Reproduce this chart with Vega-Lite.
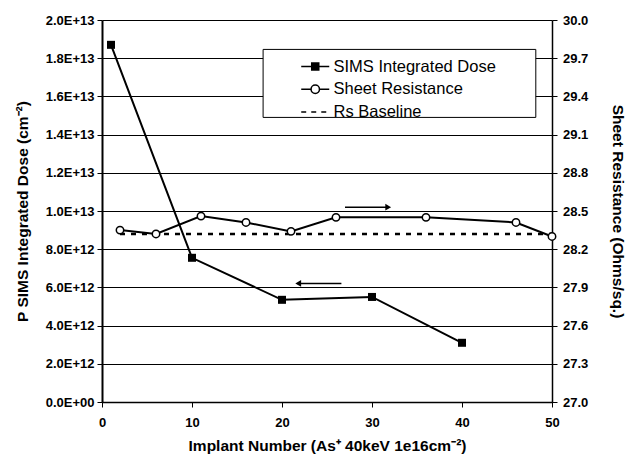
{
  "$schema": "https://vega.github.io/schema/vega-lite/v6.json",
  "width": 450,
  "height": 382,
  "autosize": {"type": "none"},
  "padding": {"left": 102, "top": 20, "right": 76, "bottom": 56},
  "background": "white",
  "config": {
    "view": {"stroke": null},
    "font": "Liberation Sans",
    "axis": {
      "domainColor": "black", "domainWidth": 1.5,
      "tickColor": "black", "tickWidth": 1, "tickSize": 5,
      "labelColor": "black", "labelFont": "Liberation Sans", "labelFontSize": 13, "labelFontWeight": "bold",
      "titleColor": "black", "titleFont": "Liberation Sans", "titleFontSize": 15.5, "titleFontWeight": "bold",
      "gridColor": "black", "gridWidth": 1, "gridOpacity": 1,
      "labelFlush": false, "labelOverlap": false
    },
    "legend": {
      "orient": "none", "legendX": 198, "legendY": 38.3, "padding": 0, "rowPadding": 5.7,
      "labelFont": "Liberation Sans", "labelFontSize": 16.5, "labelFontWeight": "normal", "labelColor": "black", "labelLimit": 0,
      "symbolSize": 144, "symbolStrokeWidth": 1.5, "symbolStrokeColor": "black", "labelOffset": 17, "title": null
    }
  },
  "datasets": {
    "sims": [
      {"x": 1, "dose": 1.87e13},
      {"x": 10, "dose": 7.55e12},
      {"x": 20, "dose": 5.35e12},
      {"x": 30, "dose": 5.5e12},
      {"x": 40, "dose": 3.1e12}
    ],
    "sr": [
      {"x": 2, "rs": 28.35},
      {"x": 6, "rs": 28.32},
      {"x": 11, "rs": 28.46},
      {"x": 16, "rs": 28.41},
      {"x": 21, "rs": 28.34},
      {"x": 26, "rs": 28.45},
      {"x": 36, "rs": 28.45},
      {"x": 46, "rs": 28.41},
      {"x": 50, "rs": 28.3}
    ],
    "base": [
      {"x": 2, "rs": 28.32},
      {"x": 50, "rs": 28.32}
    ],
    "box": [
      {"x": 17.9, "x2": 48.2, "dose": 1.49e13, "d2": 1.846e13}
    ],
    "arrowL": [
      {"x": 21.8, "x2": 26.6, "dose": 6.21e12}
    ],
    "arrowR": [
      {"x": 27, "x2": 31.8, "rs": 28.53}
    ]
  },
  "layer": [
    {
      "layer": [
        {
          "data": {"name": "sims"},
          "mark": {"type": "line", "strokeWidth": 2},
          "encoding": {
            "x": {"field": "x", "type": "quantitative", "scale": {"domain": [0, 50], "nice": false},
              "axis": {"values": [0, 10, 20, 30, 40, 50], "tickCount": 8, "grid": false, "labelOverlap": false, "title": "Implant Number (As⁺ 40keV 1e16cm⁻²)", "labelPadding": 9, "titlePadding": 9}},
            "y": {"field": "dose", "type": "quantitative", "scale": {"domain": [0, 2e13], "nice": false},
              "axis": {"orient": "left", "values": [0, 2e12, 4e12, 6e12, 8e12, 1e13, 1.2e13, 1.4e13, 1.6e13, 1.8e13, 2e13], "tickCount": 12, "grid": true, "labelOverlap": false,
                "labelExpr": "replace(upper(format(datum.value, '.1e')), 'E+0', 'E+00')",
                "title": "P SIMS Integrated Dose (cm⁻²)", "titlePadding": 15, "labelPadding": 3, "domainWidth": 2}},
            "color": {"datum": "SIMS Integrated Dose",
              "scale": {"domain": ["SIMS Integrated Dose", "Sheet Resistance", "Rs Baseline"], "range": ["black", "black", "black"]},
              "legend": {
                "symbolType": {"expr": "datum.value === 'SIMS Integrated Dose' ? 'M-1.17,0H3.5M0.58,-0.58H1.75V0.58H0.58Z' : (datum.value === 'Sheet Resistance' ? 'M-1.17,0H0.47M1.87,0H3.5M0.47,0A0.7,0.7 0 1,1 1.87,0A0.7,0.7 0 1,1 0.47,0Z' : 'M-1.17,0H-0.34M0.5,0H1.33M2.17,0H3')"},
                "symbolFillColor": {"expr": "datum.value === 'SIMS Integrated Dose' ? 'black' : (datum.value === 'Sheet Resistance' ? 'white' : 'transparent')"}
              }
            }
          }
        },
        {
          "data": {"name": "sims"},
          "mark": {"type": "point", "shape": "square", "filled": true, "color": "black", "size": 64, "opacity": 1},
          "encoding": {
            "x": {"field": "x", "type": "quantitative", "scale": {"domain": [0, 50], "nice": false}},
            "y": {"field": "dose", "type": "quantitative", "scale": {"domain": [0, 2e13], "nice": false}}
          }
        },
        {
          "data": {"name": "arrowL"},
          "mark": {"type": "rule", "color": "black", "strokeWidth": 1.5},
          "encoding": {
            "x": {"field": "x", "type": "quantitative", "scale": {"domain": [0, 50], "nice": false}},
            "x2": {"field": "x2"},
            "y": {"field": "dose", "type": "quantitative", "scale": {"domain": [0, 2e13], "nice": false}}
          }
        },
        {
          "data": {"name": "arrowL"},
          "mark": {"type": "point", "shape": "triangle-left", "filled": true, "color": "black", "size": 45, "opacity": 1},
          "encoding": {
            "x": {"field": "x", "type": "quantitative", "scale": {"domain": [0, 50], "nice": false}},
            "y": {"field": "dose", "type": "quantitative", "scale": {"domain": [0, 2e13], "nice": false}}
          }
        },
        {
          "data": {"name": "box"},
          "mark": {"type": "rect", "fill": "white", "stroke": "black", "strokeWidth": 1},
          "encoding": {
            "x": {"field": "x", "type": "quantitative", "scale": {"domain": [0, 50], "nice": false}},
            "x2": {"field": "x2"},
            "y": {"field": "dose", "type": "quantitative", "scale": {"domain": [0, 2e13], "nice": false}},
            "y2": {"field": "d2"}
          }
        }
      ]
    },
    {
      "layer": [
        {
          "data": {"name": "base"},
          "mark": {"type": "line", "strokeWidth": 2.5, "strokeDash": [5, 6]},
          "encoding": {
            "x": {"field": "x", "type": "quantitative", "scale": {"domain": [0, 50], "nice": false}},
            "y": {"field": "rs", "type": "quantitative", "scale": {"domain": [27, 30], "nice": false, "zero": false},
              "axis": {"orient": "right", "values": [27, 27.3, 27.6, 27.9, 28.2, 28.5, 28.8, 29.1, 29.4, 29.7, 30], "tickCount": 12, "labelOverlap": false, "format": ".1f", "grid": false,
                "title": "Sheet Resistance (Ohms/sq.)", "titlePadding": 22, "labelPadding": 5.5}},
            "color": {"datum": "Rs Baseline", "legend": null}
          }
        },
        {
          "data": {"name": "sr"},
          "mark": {"type": "line", "strokeWidth": 2},
          "encoding": {
            "x": {"field": "x", "type": "quantitative", "scale": {"domain": [0, 50], "nice": false}},
            "y": {"field": "rs", "type": "quantitative", "scale": {"domain": [27, 30], "nice": false, "zero": false}},
            "color": {"datum": "Sheet Resistance", "legend": null}
          }
        },
        {
          "data": {"name": "sr"},
          "mark": {"type": "point", "shape": "circle", "filled": true, "fill": "white", "stroke": "black", "strokeWidth": 1.5, "size": 55, "opacity": 1},
          "encoding": {
            "x": {"field": "x", "type": "quantitative", "scale": {"domain": [0, 50], "nice": false}},
            "y": {"field": "rs", "type": "quantitative", "scale": {"domain": [27, 30], "nice": false, "zero": false}}
          }
        },
        {
          "data": {"name": "arrowR"},
          "mark": {"type": "rule", "color": "black", "strokeWidth": 1.5},
          "encoding": {
            "x": {"field": "x", "type": "quantitative", "scale": {"domain": [0, 50], "nice": false}},
            "x2": {"field": "x2"},
            "y": {"field": "rs", "type": "quantitative", "scale": {"domain": [27, 30], "nice": false, "zero": false}}
          }
        },
        {
          "data": {"name": "arrowR"},
          "mark": {"type": "point", "shape": "triangle-right", "filled": true, "color": "black", "size": 45, "opacity": 1},
          "encoding": {
            "x": {"field": "x2", "type": "quantitative", "scale": {"domain": [0, 50], "nice": false}},
            "y": {"field": "rs", "type": "quantitative", "scale": {"domain": [27, 30], "nice": false, "zero": false}}
          }
        }
      ]
    }
  ],
  "resolve": {"scale": {"y": "independent"}}
}
